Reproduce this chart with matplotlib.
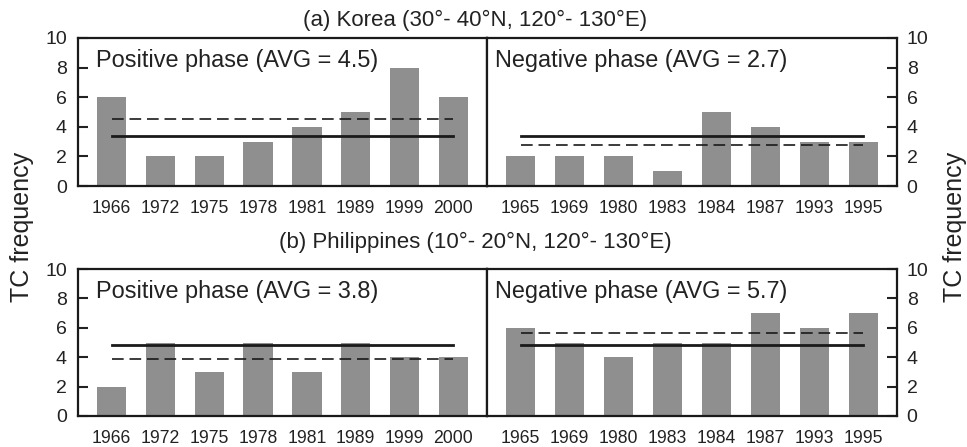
import matplotlib
matplotlib.use("Agg")
import matplotlib.pyplot as plt

plt.rcParams['font.family'] = ['Liberation Sans', 'DejaVu Sans']

W, H = 967, 447

titles = ["(a) Korea (30°- 40°N, 120°- 130°E)",
          "(b) Philippines (10°- 20°N, 120°- 130°E)"]

pos_years = ["1966", "1972", "1975", "1978", "1981", "1989", "1999", "2000"]
neg_years = ["1965", "1969", "1980", "1983", "1984", "1987", "1993", "1995"]

korea_pos = [6, 2, 2, 3, 4, 5, 8, 6]
korea_neg = [2, 2, 2, 1, 5, 4, 3, 3]
phil_pos = [2, 5, 3, 5, 3, 5, 4, 4]
phil_neg = [6, 5, 4, 5, 5, 7, 6, 7]

# phase averages (dashed) and climatology (solid)
korea_avg = [4.5, 2.75]
phil_avg = [3.875, 5.625]
korea_clim = 3.4
phil_clim = 4.8

avg_labels = [["Positive phase (AVG = 4.5)", "Negative phase (AVG = 2.7)"],
              ["Positive phase (AVG = 3.8)", "Negative phase (AVG = 5.7)"]]

rows = [
    (korea_pos, korea_neg, korea_avg, korea_clim),
    (phil_pos, phil_neg, phil_avg, phil_clim),
]

fig = plt.figure(figsize=(W / 100, H / 100), dpi=100)

def px_axes(x0, y0, x1, y1):
    return fig.add_axes([x0 / W, 1 - y1 / H, (x1 - x0) / W, (y1 - y0) / H])

row_px = [(38, 186), (269, 416)]
col_px = [(78, 487), (487, 897)]
title_y = [20, 242]

bar_color = "#8f8f8f"
line_color = "#1a1a1a"

for r, (vals_p, vals_n, avgs, clim) in enumerate(rows):
    y0, y1 = row_px[r]
    for c in range(2):
        x0, x1 = col_px[c]
        ax = px_axes(x0, y0, x1, y1)
        vals = vals_p if c == 0 else vals_n
        years = pos_years if c == 0 else neg_years
        xs = list(range(len(vals)))
        ax.bar(xs, vals, width=0.6, color=bar_color, zorder=1)
        ax.plot([xs[0], xs[-1]], [clim, clim], color=line_color, lw=2.0, zorder=3)
        ax.plot([xs[0], xs[-1]], [avgs[c], avgs[c]], color=line_color, lw=1.2,
                dashes=(7, 3.5), zorder=3)
        ax.set_xlim(-0.69, 7.69)
        ax.set_ylim(0, 10)
        ax.set_yticks([0, 2, 4, 6, 8, 10])
        ax.set_xticks(xs)
        ax.set_xticklabels(years, fontsize=12.7, color="#222222")
        ax.tick_params(axis='x', length=0, pad=10)
        if c == 0:
            ax.tick_params(axis='y', direction='in', length=7, width=1.5,
                           labelsize=14, pad=8, colors="#222222")
            tx = 0.045
        else:
            ax.yaxis.tick_right()
            ax.tick_params(axis='y', direction='in', length=7, width=1.5,
                           labelsize=14, pad=7, colors="#222222")
            tx = 0.02
        for s in ax.spines.values():
            s.set_linewidth(1.6)
            s.set_color("#1a1a1a")
        ax.text(tx, 0.845, avg_labels[r][c], transform=ax.transAxes,
                fontsize=16.9, va='center', ha='left', color="#222222")
    fig.text(475 / W, 1 - title_y[r] / H, titles[r], fontsize=16,
             ha='center', va='center', color="#222222")

fig.text(22 / W, 1 - 227 / H, "TC frequency", rotation=90, fontsize=18,
         ha='center', va='center', color="#222222")
fig.text(955 / W, 1 - 227 / H, "TC frequency", rotation=90, fontsize=18,
         ha='center', va='center', color="#222222")

fig.savefig("out.png", dpi=100)
